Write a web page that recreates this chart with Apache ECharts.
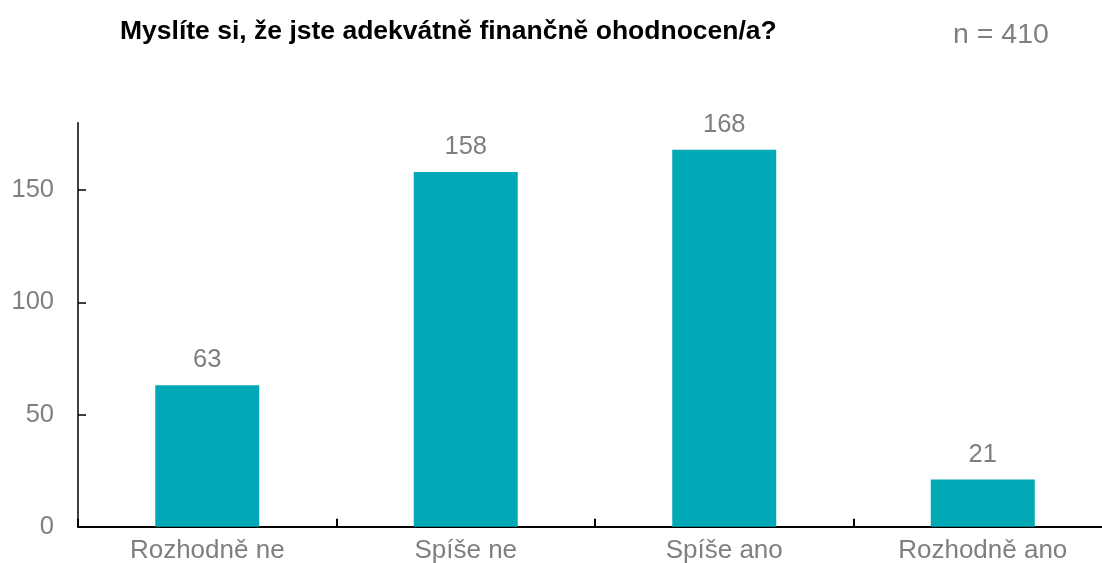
<!DOCTYPE html>
<html>
<head>
<meta charset="utf-8">
<script src="https://cdn.jsdelivr.net/npm/echarts@6/dist/echarts.min.js"></script>
<style>
  html, body { margin: 0; padding: 0; background: #ffffff; }
  #chart { width: 1102px; height: 563px; }
</style>
</head>
<body>
<div id="chart"></div>
<script>
// Survey answers and counts
const categories = ['Rozhodně ne', 'Spíše ne', 'Spíše ano', 'Rozhodně ano'];
const counts = [63, 158, 168, 21];
const yTicks = [0, 50, 100, 150];
const titleText = 'Myslíte si, že jste adekvátně finančně ohodnocen/a?';
const sampleText = 'n = 410';

const FONT = '"Liberation Sans", Arial, sans-serif';
const GREY = '#7f7f7f';
const BAR = '#00a9b5';

const chart = echarts.init(document.getElementById('chart'), null, { renderer: 'canvas' });

chart.setOption({
  animation: false,
  backgroundColor: '#ffffff',
  title: [
    {
      text: titleText,
      left: 115,
      top: 13,
      textStyle: { fontFamily: FONT, fontWeight: 'bold', fontSize: 26.5, color: '#000000' }
    },
    {
      text: sampleText,
      left: 948,
      top: 16,
      textStyle: { fontFamily: FONT, fontWeight: 'normal', fontSize: 28.5, color: GREY }
    }
  ],
  // the plot runs slightly past the right edge of the canvas
  grid: { left: 78, top: 122.7, right: -10, bottom: 36.3, containLabel: false, outerBoundsMode: 'none' },
  xAxis: {
    type: 'category',
    data: categories,
    axisLine: { lineStyle: { color: '#000000', width: 2 } },
    axisTick: { show: true, inside: true, length: 8, lineStyle: { color: '#000000', width: 2 } },
    axisLabel: { fontFamily: FONT, fontSize: 26, color: GREY, margin: 11 },
    splitLine: { show: false }
  },
  yAxis: {
    type: 'value',
    min: 0,
    max: 180,
    interval: 50,
    axisLine: { show: true, lineStyle: { color: '#000000', width: 1.5 } },
    axisTick: { show: true, inside: true, length: 8, customValues: yTicks, lineStyle: { color: '#000000', width: 1.5 } },
    axisLabel: { fontFamily: FONT, fontSize: 25.5, color: GREY, margin: 24, customValues: yTicks },
    splitLine: { show: false }
  },
  series: [
    {
      type: 'bar',
      data: counts,
      barWidth: 104,
      itemStyle: { color: BAR },
      label: {
        show: true,
        position: 'top',
        distance: 12,
        fontFamily: FONT,
        fontSize: 25.5,
        color: GREY
      }
    }
  ]
});
</script>
</body>
</html>
